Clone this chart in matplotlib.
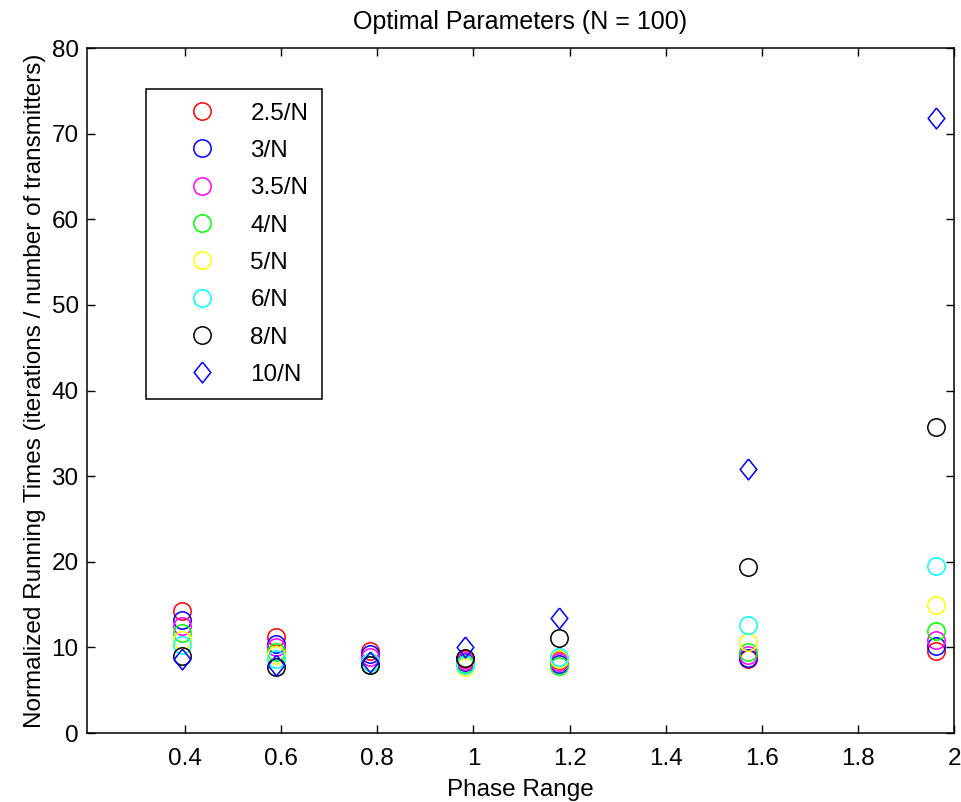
import matplotlib
matplotlib.use('Agg')
import matplotlib.pyplot as plt
import numpy as np

plt.rcParams['font.family'] = ['Liberation Sans', 'DejaVu Sans']

# phase range values (x) and normalized running times per step size
phase = [0.393, 0.589, 0.785, 0.982, 1.178, 1.571, 1.963]

labels = ['2.5/N', '3/N', '3.5/N', '4/N', '5/N', '6/N', '8/N', '10/N']
colors = ['#ff0000', '#0000ff', '#ff00ff', '#00ff00', '#ffff00', '#00ffff', '#000000', '#0000ff']
markers = ['o', 'o', 'o', 'o', 'o', 'o', 'o', 'diamond']

t_25 = [14.3, 11.2, 9.6, 8.7, 8.5, 8.6, 9.6]
t_3 = [13.2, 10.4, 9.2, 8.3, 8.1, 8.8, 10.15]
t_35 = [12.5, 10.0, 8.9, 8.4, 8.25, 9.1, 10.85]
t_4 = [11.7, 9.5, 7.9, 8.1, 7.8, 9.5, 11.9]
t_5 = [10.9, 9.1, 8.3, 7.7, 8.6, 10.65, 14.9]
t_6 = [10.3, 8.7, 8.3, 8.0, 8.9, 12.6, 19.5]
t_8 = [9.0, 7.7, 7.9, 8.8, 11.1, 19.4, 35.7]
t_10 = [8.6, 7.9, 8.3, 10.1, 13.4, 30.8, 71.8]

series = [t_25, t_3, t_35, t_4, t_5, t_6, t_8, t_10]

# matlab style diamond (a bit wider than matplotlib's thin diamond)
diamond = [(0, 1), (0.8, 0), (0, -1), (-0.8, 0), (0, 1)]

fig = plt.figure(figsize=(9.62, 8.02), dpi=100)
ax = fig.add_axes([0.0904, 0.086, 0.9013, 0.854])

for vals, lab, col, mk in zip(series, labels, colors, markers):
    if mk == 'diamond':
        ax.plot(phase, vals, linestyle='none', marker=diamond, markersize=15,
                markerfacecolor='none', markeredgecolor=col, markeredgewidth=1.1, label=lab)
    else:
        ax.plot(phase, vals, linestyle='none', marker='o', markersize=12.5,
                markerfacecolor='none', markeredgecolor=col, markeredgewidth=1.1, label=lab)

ax.set_xlim(0.196, 2.0)
ax.set_ylim(0, 80)
ax.set_xticks(np.arange(0.4, 2.01, 0.2))
ax.set_xticklabels(['0.4', '0.6', '0.8', '1', '1.2', '1.4', '1.6', '1.8', '2'])
ax.set_yticks(np.arange(0, 81, 10))

ax.tick_params(direction='in', top=True, right=True, length=6, width=1, labelsize=17.5, pad=6)
ax.tick_params(axis='x', pad=11)
for s in ax.spines.values():
    s.set_linewidth(1.1)

ax.set_title('Optimal Parameters (N = 100)', fontsize=18, pad=14)
ax.set_xlabel('Phase Range', fontsize=17.5, labelpad=6)
ax.set_ylabel('Normalized Running Times (iterations / number of transmitters)', fontsize=17.5, labelpad=4)

leg = ax.legend(loc='upper left', bbox_to_anchor=(0.068, 0.940), borderaxespad=0,
                fontsize=17.5, fancybox=False, edgecolor='black', framealpha=1,
                labelspacing=0.63, handletextpad=0.25, borderpad=0.55, handlelength=3.5)
leg.get_frame().set_linewidth(1.1)

fig.savefig('out.png', dpi=100)
